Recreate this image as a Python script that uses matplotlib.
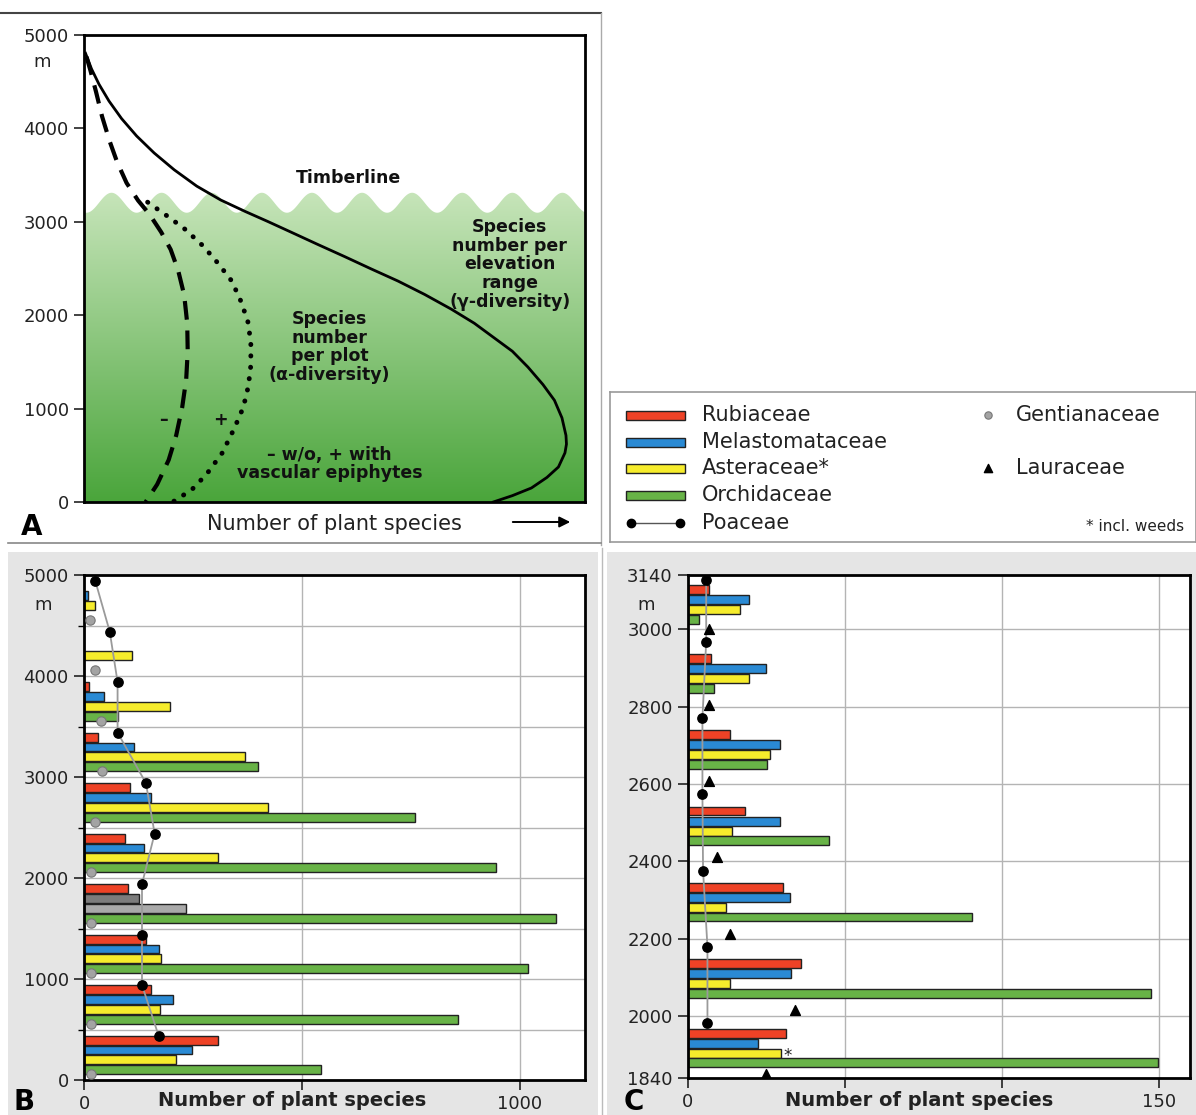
import matplotlib.pyplot as plt
import numpy as np
from matplotlib.patches import Rectangle, Polygon
from matplotlib.colors import LinearSegmentedColormap

plt.rcParams['font.family'] = ['DejaVu Sans']

W, H = 1196, 1115

# --- Panel A: schematic diversity curves (x in relative units 0-100, y in m) ---
gamma_x = [0.3, 1.5, 3.0, 5.0, 7.5, 10.5, 14.0, 18.0, 22.5, 27.3, 32.2, 36.7, 41.3, 46.6,
           52.0, 57.3, 62.7, 68.0, 73.3, 77.9, 81.7, 85.5, 88.6, 91.6, 93.9, 95.4, 96.2,
           96.3, 96.0, 94.7, 92.4, 89.3, 85.5, 81.7]
gamma_y = [4805, 4637, 4472, 4292, 4105, 3919, 3737, 3557, 3382, 3233, 3110, 3003, 2890, 2759,
           2628, 2496, 2365, 2222, 2065, 1914, 1764, 1614, 1445, 1258, 1089, 901, 713,
           620, 526, 375, 263, 150, 68, 0]
alpha_wo_x = [0.5, 1.3, 2.4, 3.6, 5.1, 6.6, 8.5, 10.8, 13.1, 15.4, 17.3, 18.8, 20.0, 20.6,
              20.7, 20.4, 19.6, 18.4, 16.9, 14.6, 12.3]
alpha_wo_y = [4767, 4617, 4392, 4129, 3866, 3641, 3416, 3228, 3078, 2890, 2703, 2478, 2215, 1914,
              1614, 1314, 1014, 713, 450, 188, 0]
alpha_w_x = [12.7, 16.2, 20.0, 23.8, 26.8, 29.5, 31.4, 32.8, 33.3, 33.3, 32.8, 31.8, 30.0,
             27.6, 24.5, 21.5, 17.7]
alpha_w_y = [3210, 3078, 2928, 2740, 2553, 2365, 2140, 1914, 1689, 1464, 1239, 1014, 788,
             526, 300, 131, 0]
timberline = 3204

# --- Panel B: 500 m elevation bands, whole gradient ---
b_bands = [0, 500, 1000, 1500, 2000, 2500, 3000, 3500, 4000, 4500]
b_rubi = [308, 153, 143, 102, 95, 105, 31, 11, 0, 0]
b_melas = [247, 204, 171, 125, 138, 153, 114, 46, 0, 9]
b_aster = [211, 175, 177, 235, 307, 421, 370, 197, 110, 26]
b_orchid = [543, 858, 1019, 1083, 945, 760, 400, 79, 0, 0]
b_poaceae = [171, 133, 133, 133, 162, 142, 77, 77, 59, 26]
b_gentian = [15, 16, 16, 16, 16, 26, 42, 39, 26, 13]
b_gray_band = 1500  # band where Melastomataceae / Asteraceae are shown in grey

# --- Panel C: plots between 1840 and 3140 m ---
c_levels = [1956, 2136, 2333, 2530, 2728, 2924, 3103]
c_rubi = [31.3, 35.9, 30.4, 18.3, 13.3, 7.3, 6.7]
c_melas = [22.3, 32.7, 32.5, 29.2, 29.4, 24.8, 19.4]
c_aster = [29.6, 13.4, 12.2, 13.9, 26.0, 19.4, 16.7]
c_orchid = [149.8, 147.6, 90.6, 44.9, 25.2, 8.2, 3.4]
c_poa_elev = [1983, 2179, 2376, 2573, 2771, 2968, 3127]
c_poaceae = [6.2, 6.2, 4.8, 4.6, 4.6, 5.8, 5.8]
c_laur_elev = [1850, 2016, 2211, 2410, 2608, 2804, 3000]
c_lauraceae = [25, 34, 13.4, 9.2, 6.8, 6.8, 6.8]

RED, BLUE, YELLOW, GREEN = '#ee4226', '#2a8ad4', '#f6ec2c', '#68b347'
DGRAY, LGRAY = '#7c7c7c', '#a9a9a9'
GENT = '#a3a3a3'

fig = plt.figure(figsize=(W / 100, H / 100), dpi=100)


def box(l, t, r, b):
    return [l / W, 1 - b / H, (r - l) / W, (b - t) / H]


# background layer in pixel coordinates
bg = fig.add_axes([0, 0, 1, 1], zorder=-1)
bg.set_xlim(0, W)
bg.set_ylim(H, 0)
bg.axis('off')
bg.add_patch(Rectangle((8, 552), 590, 563, facecolor='#e5e5e5', edgecolor='none'))
bg.add_patch(Rectangle((607, 552), 589, 563, facecolor='#e5e5e5', edgecolor='none'))
bg.plot([0, 601], [13, 13], color='#444', lw=1.5)
bg.plot([601, 601], [13, 545], color='#aaa', lw=1)
bg.plot([8, 601], [543, 543], color='#888', lw=1.2)
bg.plot([602, 602], [548, 1115], color='#bbb', lw=1)

# ---------------- Panel A ----------------
ax = fig.add_axes(box(84, 35, 585, 502))
ax.set_xlim(0, 100)
ax.set_ylim(0, 5000)

green = LinearSegmentedColormap.from_list('forest', ['#4aa53b', '#c7e5ba'])
grad = np.linspace(0, 1, 256).reshape(-1, 1)
im = ax.imshow(grad, extent=(0, 100, 0, 3320), aspect='auto', origin='lower',
               cmap=green, zorder=0)
wu = np.linspace(0, 100, 500)
wtop = timberline + 107 * np.cos(2 * np.pi * (wu - 5.5) / 10)
forest = Polygon([(0, 0)] + list(zip(wu, wtop)) + [(100, 0)], closed=True,
                 facecolor='none', edgecolor='none', transform=ax.transData)
ax.add_patch(forest)
im.set_clip_path(forest)

ax.plot(gamma_x, gamma_y, color='k', lw=2, zorder=3, solid_joinstyle='round')
ax.plot(alpha_wo_x, alpha_wo_y, color='k', lw=3, ls=(0, (4.5, 2.6)), zorder=3)
ax.plot(alpha_w_x, alpha_w_y, color='k', lw=3.5, ls=(0, (0.05, 2.3)),
        dash_capstyle='round', zorder=3)

bold = dict(ha='center', va='center', fontsize=12.5, fontweight='bold', color='#111')
ax.text(52.7, 3472, 'Timberline', **bold)
ax.text(85, 2543, 'Species\nnumber per\nelevation\nrange\n(\u03b3-diversity)',
        linespacing=1.05, **bold)
ax.text(49, 1661, 'Species\nnumber\nper plot\n(\u03b1-diversity)', linespacing=1.05, **bold)
ax.text(15.8, 882, '\u2013', **bold)
ax.text(27.2, 882, '+', **bold)
ax.text(49, 407, '\u2013 w/o, + with\nvascular epiphytes', linespacing=1.0, **bold)

ax.set_xticks([])
ax.set_yticks(range(0, 5001, 1000))
ax.tick_params(axis='y', length=7, width=1.2, labelsize=13, pad=4, colors='#222')
for s in ax.spines.values():
    s.set_linewidth(2)

bg.text(42, 62, 'm', ha='center', va='center', fontsize=13, color='#222')
bg.text(32, 527, 'A', ha='center', va='center', fontsize=20, fontweight='bold')
bg.text(334, 524, 'Number of plant species', ha='center', va='center', fontsize=15,
        color='#222')
bg.annotate('', xy=(573, 522), xytext=(510, 522),
            arrowprops=dict(arrowstyle='-|>', color='k', lw=1.4, mutation_scale=16))

# ---------------- Legend ----------------
lax = fig.add_axes(box(610, 392, 1196, 542))
lax.set_xlim(610, 1196)
lax.set_ylim(542, 392)
lax.set_xticks([])
lax.set_yticks([])
for s in lax.spines.values():
    s.set_color('#999')
    s.set_linewidth(1.2)

rows = [415, 442, 468, 495, 523]
for y, c, name in zip(rows[:4], [RED, BLUE, YELLOW, GREEN],
                      ['Rubiaceae', 'Melastomataceae', 'Asteraceae*', 'Orchidaceae']):
    lax.add_patch(Rectangle((626, y - 4.5), 59, 9, facecolor=c, edgecolor='#222', lw=1))
    lax.text(702, y, name, va='center', fontsize=15, color='#222')
lax.plot([631, 680], [rows[4], rows[4]], color='#555', lw=1)
lax.scatter([631, 680], [rows[4], rows[4]], s=36, color='k', zorder=3)
lax.text(702, rows[4], 'Poaceae', va='center', fontsize=15, color='#222')
lax.scatter([988], [rows[0]], s=28, color=GENT, edgecolor='#777', lw=0.8)
lax.text(1016, rows[0], 'Gentianaceae', va='center', fontsize=15, color='#222')
lax.scatter([988], [rows[2]], s=35, marker='^', color='k')
lax.text(1016, rows[2], 'Lauraceae', va='center', fontsize=15, color='#222')
lax.text(1184, 526, '* incl. weeds', ha='right', va='center', fontsize=11, color='#222')


def style_bar_axes(axb):
    axb.set_axisbelow(True)
    axb.grid(True, which='both', color='#b4b4b4', lw=1)
    axb.tick_params(axis='both', which='major', length=7, width=1.2, labelsize=13,
                    pad=4, colors='#222')
    axb.tick_params(axis='y', which='minor', length=4, width=1)
    for s in axb.spines.values():
        s.set_linewidth(2)


# ---------------- Panel B ----------------
bx = fig.add_axes(box(84, 575, 585, 1080))
bx.set_xlim(0, 1149)
bx.set_ylim(0, 5000)
bh = 88
for base, r, m, a, o in zip(b_bands, b_rubi, b_melas, b_aster, b_orchid):
    gray = base == b_gray_band
    for val, off, col in [(r, 395, RED), (m, 297, DGRAY if gray else BLUE),
                          (a, 200, LGRAY if gray else YELLOW), (o, 102, GREEN)]:
        if val > 0:
            bx.barh(base + off, val, height=bh, color=col, edgecolor='#222', lw=1, zorder=2)
b_elev = np.array(b_bands)
bx.scatter(b_gentian, b_elev + 55, s=45, color=GENT, edgecolor='#777', lw=0.8, zorder=4)
bx.plot(b_poaceae, b_elev + 440, color='#9a9a9a', lw=1.3, zorder=3)
bx.scatter(b_poaceae, b_elev + 440, s=45, color='k', zorder=4, clip_on=False)

bx.set_yticks(range(0, 5001, 1000))
bx.set_yticks(range(500, 5000, 1000), minor=True)
bx.set_xticks([0, 500, 1000])
bx.set_xticklabels(['0', '', '1000'])
style_bar_axes(bx)

bg.text(43, 605, 'm', ha='center', va='center', fontsize=13, color='#222')
bg.text(24, 1102, 'B', ha='center', va='center', fontsize=20, fontweight='bold')
bg.text(292, 1100, 'Number of plant species', ha='center', va='center', fontsize=14,
        fontweight='bold', color='#222')

# ---------------- Panel C ----------------
cx = fig.add_axes(box(688, 575, 1190, 1078))
cx.set_xlim(0, 160)
cx.set_ylim(1840, 3140)
ch = 23
for lvl, r, m, a, o in zip(c_levels, c_rubi, c_melas, c_aster, c_orchid):
    for val, off, col in [(r, 0, RED), (m, 26, BLUE), (a, 52, YELLOW), (o, 77, GREEN)]:
        cx.barh(lvl - off, val, height=ch, color=col, edgecolor='#222', lw=1, zorder=2)
cx.text(c_aster[0] + 0.8, c_levels[0] - 58, '*', fontsize=12, va='center', color='#222')
cx.plot(c_poaceae, c_poa_elev, color='#9a9a9a', lw=1.3, zorder=3)
cx.scatter(c_poaceae, c_poa_elev, s=45, color='k', zorder=4, clip_on=False)
cx.scatter(c_lauraceae, c_laur_elev, s=50, marker='^', color='k', zorder=4)

cx.set_yticks([1840, 2000, 2200, 2400, 2600, 2800, 3000, 3140])
cx.set_xticks([0, 50, 100, 150])
cx.set_xticklabels(['0', '', '', '150'])
style_bar_axes(cx)

bg.text(646, 605, 'm', ha='center', va='center', fontsize=13, color='#222')
bg.text(634, 1102, 'C', ha='center', va='center', fontsize=20, fontweight='bold')
bg.text(919, 1100, 'Number of plant species', ha='center', va='center', fontsize=14,
        fontweight='bold', color='#222')

fig.savefig('out.png', dpi=100)
